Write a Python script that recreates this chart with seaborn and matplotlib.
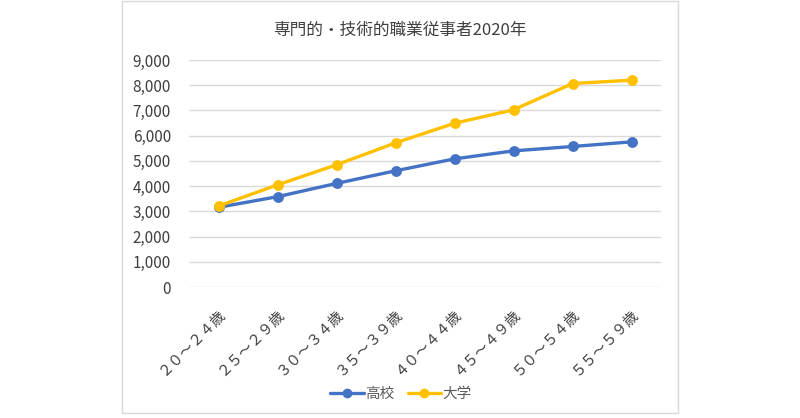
import matplotlib
matplotlib.use("Agg")
import matplotlib.pyplot as plt
import matplotlib.patches as mpatches
from matplotlib.lines import Line2D
import seaborn as sns
import pandas as pd

categories = ["２０～２４歳", "２５～２９歳", "３０～３４歳", "３５～３９歳",
              "４０～４４歳", "４５～４９歳", "５０～５４歳", "５５～５９歳"]
koukou = [3160, 3580, 4107, 4607, 5080, 5397, 5571, 5754]
daigaku = [3210, 4050, 4845, 5714, 6492, 7025, 8067, 8200]
series_names = ["高校", "大学"]
yticks = [0, 1000, 2000, 3000, 4000, 5000, 6000, 7000, 8000, 9000]
title = "専門的・技術的職業従事者2020年"

colors = {"高校": "#4472C4", "大学": "#FFC000"}

sns.set_theme(style="white")
plt.rcParams['font.family'] = ['Noto Sans CJK JP', 'DejaVu Sans']

df = pd.DataFrame({
    "age": categories * 2,
    "value": koukou + daigaku,
    "edu": [series_names[0]] * len(categories) + [series_names[1]] * len(categories),
})

fig = plt.figure(figsize=(8, 4.18), dpi=100)
ax = fig.add_axes([189/800, 1 - 287/418, (661-189)/800, (287-60)/418])

sns.pointplot(data=df, x="age", y="value", hue="edu", order=categories,
              hue_order=series_names, palette=colors, markers="o",
              linestyles="-", markersize=6, linewidth=2.4, ax=ax, legend=False)

ax.set_xlim(-0.5, len(categories) - 0.5)
ax.set_ylim(0, 9000)
ax.set_yticks(yticks)
ax.set_yticklabels([f"{v:,}" for v in yticks])
ax.yaxis.grid(True, color="#D9D9D9", linewidth=1)
ax.set_axisbelow(True)
for s in ax.spines.values():
    s.set_visible(False)
ax.set_xlabel("")
ax.set_ylabel("")
ax.tick_params(axis="y", length=0, pad=13, labelsize=11, labelcolor="#404040")
ax.tick_params(axis="x", length=0, pad=14, labelsize=10.5, labelcolor="#404040")
for lab in ax.get_xticklabels():
    lab.set_rotation(45)
    lab.set_ha("right")
    lab.set_va("top")
    lab.set_rotation_mode("anchor")

fig.text(400/800, 1 - 30/418, title, ha="center", va="center",
         fontsize=12, color="#404040")

handles = [Line2D([0], [0], color=colors[n], marker="o", markersize=6,
                  linewidth=2.4, label=n) for n in series_names]
fig.legend(handles=handles, loc="center", bbox_to_anchor=(401/800, 1 - 394/418),
           ncol=2, frameon=False, fontsize=10.5, handlelength=2.3,
           handletextpad=0.1, columnspacing=0.9, labelcolor="#595959")

rect = mpatches.Rectangle((122/800, 1 - 413/418), (678-122)/800, (412)/418,
                          transform=fig.transFigure, fill=False,
                          edgecolor="#D9D9D9", linewidth=1)
fig.patches.append(rect)

fig.savefig("out.png", dpi=100, facecolor="white")
